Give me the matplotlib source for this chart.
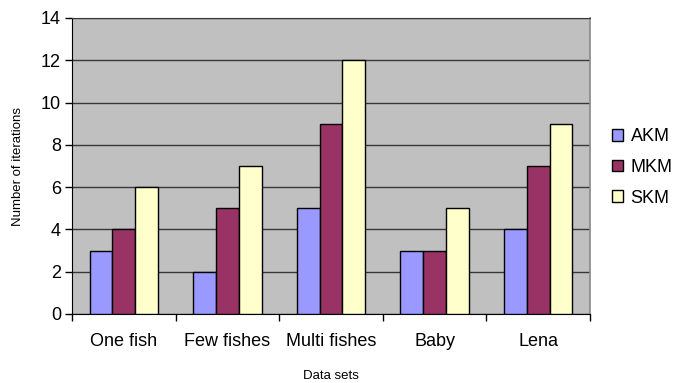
import numpy as np
import matplotlib.pyplot as plt

plt.rcParams['font.family'] = ['Liberation Sans', 'DejaVu Sans']

datasets = ['One fish', 'Few fishes', 'Multi fishes', 'Baby', 'Lena']
akm = [3, 2, 5, 3, 4]
mkm = [4, 5, 9, 3, 7]
skm = [6, 7, 12, 5, 9]
series = [('AKM', akm, '#9999ff'), ('MKM', mkm, '#993366'), ('SKM', skm, '#ffffcc')]

fig = plt.figure(figsize=(6.88, 3.83), dpi=100)
ax = fig.add_axes([72/688, 1 - 314/383, (590 - 72)/688, (314 - 18)/383])
ax.set_facecolor('#c0c0c0')

x = np.arange(len(datasets))
w = 0.22
for i, (name, vals, col) in enumerate(series):
    ax.bar(x + (i - 1) * w, vals, w, color=col, edgecolor='black', linewidth=1.0,
           label=name, zorder=3)

ax.set_xlim(-0.5, len(datasets) - 0.5)
ax.set_ylim(0, 14)
ax.set_yticks(range(0, 15, 2))
ax.yaxis.grid(True, color='#383838', linewidth=1.0, zorder=0)
ax.set_axisbelow(True)

ax.set_xticks(x)
ax.set_xticklabels(datasets)
ax.set_xticks(np.arange(-0.5, len(datasets)), minor=True)
ax.tick_params(axis='x', which='major', length=0, labelsize=13, pad=14)
ax.tick_params(axis='x', which='minor', length=5, width=1, direction='out')
ax.tick_params(axis='y', length=5, width=1, labelsize=13, pad=3)

ax.spines['top'].set_color('#383838')
ax.spines['right'].set_color('#888888')
ax.spines['right'].set_linewidth(1.2)
ax.spines['left'].set_color('black')
ax.spines['bottom'].set_color('black')

ax.set_ylabel('Number of iterations', fontsize=9.5, labelpad=12)
ax.set_xlabel('Data sets', fontsize=9.5, labelpad=14)

ax.legend(loc='center left', bbox_to_anchor=(1.012, 0.495), frameon=False,
          fontsize=13, handlelength=0.6, handleheight=0.6, handletextpad=0.4,
          labelspacing=0.75)

fig.savefig('out.png', dpi=100)
